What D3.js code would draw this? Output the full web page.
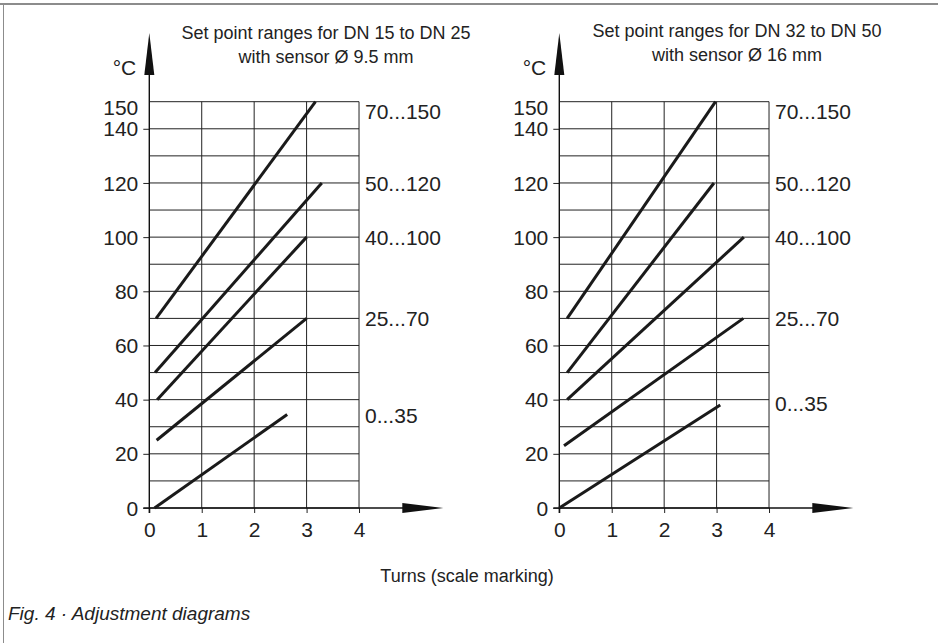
<!DOCTYPE html>
<html>
<head>
<meta charset="utf-8">
<script src="https://cdn.jsdelivr.net/npm/d3@7"></script>
<style>
  body { margin: 0; background: #fff; }
  svg { display: block; }
  text { font-family: "Liberation Sans", Arial, sans-serif; fill: #222; }
</style>
</head>
<body>
<div id="chart"></div>
<script>
// tick values shared by both diagrams
const turnTicks = [0, 1, 2, 3, 4];
const tempTicks = [0, 20, 40, 60, 80, 100, 120, 140, 150];
const gridTemps = d3.range(0, 151, 10);

// set point ranges, one line per sensor range: [turn start, temp start, turn end, temp end]
const rangeNames = ["70...150", "50...120", "40...100", "25...70", "0...35"];
const leftLines = [
  [0.13, 70, 3.17, 150],
  [0.11, 50, 3.29, 120],
  [0.15, 40, 3.00, 100],
  [0.14, 25, 3.00, 70],
  [0.10, 0, 2.63, 34.5]
];
const rightLines = [
  [0.15, 70, 2.98, 150],
  [0.15, 50, 2.95, 120],
  [0.15, 40, 3.52, 100],
  [0.09, 23, 3.51, 70],
  [0.00, 0, 3.07, 38]
];
// temperature where each range label sits
const leftLabelAt = [146.3, 120, 100, 70, 34];
const rightLabelAt = [146.3, 120, 100, 70, 38.5];

const leftTitle = ["Set point ranges for DN 15 to DN 25", "with sensor Ø 9.5 mm"];
const rightTitle = ["Set point ranges for DN 32 to DN 50", "with sensor Ø 16 mm"];

const width = 938, height = 643;
const svg = d3.select('#chart')
  .append('svg')
  .attr('width', width)
  .attr('height', height);

// page frame
svg.append('line')
  .attr('x1', 0).attr('x2', width).attr('y1', 4).attr('y2', 4)
  .attr('stroke', '#8c8c8c').attr('stroke-width', 2);
svg.append('line')
  .attr('x1', 3.5).attr('x2', 3.5).attr('y1', 4).attr('y2', height)
  .attr('stroke', '#8c8c8c').attr('stroke-width', 1);

function drawDiagram(x0, lines, labelAt, title, titleX, titleY) {
  const xScale = d3.scaleLinear().domain([0, 4]).range([x0, x0 + 4 * 52.43]);
  const yScale = d3.scaleLinear().domain([0, 150]).range([508, 101.7]);
  const g = svg.append('g');

  // grid
  g.selectAll('.hgrid')
    .data(gridTemps)
    .enter().append('line')
    .attr('x1', xScale(0)).attr('x2', xScale(4))
    .attr('y1', d => yScale(d)).attr('y2', d => yScale(d))
    .attr('stroke', '#222').attr('stroke-width', 1);
  g.selectAll('.vgrid')
    .data(turnTicks.slice(1))
    .enter().append('line')
    .attr('x1', d => xScale(d)).attr('x2', d => xScale(d))
    .attr('y1', yScale(150)).attr('y2', yScale(0))
    .attr('stroke', '#222').attr('stroke-width', 1);

  // x axis with arrow
  const xAxis = d3.axisBottom(xScale).tickValues(turnTicks).tickFormat(d3.format('d'))
    .tickSize(5).tickPadding(9);
  const gx = g.append('g')
    .attr('transform', `translate(0,${yScale(0)})`)
    .call(xAxis);
  gx.select('.domain').remove();
  gx.selectAll('line').attr('stroke', '#222');
  gx.selectAll('text').style('font-size', '21px').style('font-family', '"Liberation Sans", Arial, sans-serif').attr('fill', '#222');
  g.append('line')
    .attr('x1', xScale(0) - 6).attr('x2', xScale(0) + 256)
    .attr('y1', yScale(0)).attr('y2', yScale(0))
    .attr('stroke', '#111').attr('stroke-width', 1.4);
  g.append('path')
    .attr('d', `M${xScale(0) + 253},${yScale(0) - 5}L${xScale(0) + 294},${yScale(0)}L${xScale(0) + 253},${yScale(0) + 5}Z`)
    .attr('fill', '#111');

  // y axis with arrow
  const yAxis = d3.axisLeft(yScale).tickValues(tempTicks).tickSize(6).tickPadding(5);
  const gy = g.append('g')
    .attr('transform', `translate(${xScale(0)},0)`)
    .call(yAxis);
  gy.select('.domain').remove();
  gy.selectAll('line').attr('stroke', '#222').attr('opacity', d => d === 150 ? 0 : 1);
  gy.selectAll('text').style('font-size', '21px').style('font-family', '"Liberation Sans", Arial, sans-serif').attr('fill', '#222')
    .attr('dy', d => d === 150 ? '0.6em' : '0.34em');
  g.append('line')
    .attr('x1', xScale(0)).attr('x2', xScale(0))
    .attr('y1', yScale(0) + 5).attr('y2', 70)
    .attr('stroke', '#111').attr('stroke-width', 1.4);
  g.append('path')
    .attr('d', `M${xScale(0) - 5},75L${xScale(0)},33L${xScale(0) + 5},75Z`)
    .attr('fill', '#111');
  g.append('text')
    .attr('x', xScale(0) - 13).attr('y', 75)
    .attr('text-anchor', 'end')
    .style('font-size', '21px')
    .text('°C');

  // set point range lines
  g.selectAll('.range')
    .data(lines)
    .enter().append('line')
    .attr('x1', d => xScale(d[0])).attr('y1', d => yScale(d[1]))
    .attr('x2', d => xScale(d[2])).attr('y2', d => yScale(d[3]))
    .attr('stroke', '#1a1a1a').attr('stroke-width', 3);

  g.selectAll('.rlabel')
    .data(rangeNames)
    .enter().append('text')
    .attr('x', xScale(4) + 6)
    .attr('y', (d, i) => yScale(labelAt[i]))
    .attr('dy', '0.36em')
    .style('font-size', '21px')
    .text(d => d);

  // title
  g.selectAll('.title')
    .data(title)
    .enter().append('text')
    .attr('x', titleX)
    .attr('y', (d, i) => titleY + i * 24)
    .attr('text-anchor', 'middle')
    .style('font-size', '18px')
    .text(d => d);
}

drawDiagram(149.3, leftLines, leftLabelAt, leftTitle, 326, 39);
drawDiagram(559.3, rightLines, rightLabelAt, rightTitle, 737, 37);

svg.append('text')
  .attr('x', 467).attr('y', 582)
  .attr('text-anchor', 'middle')
  .style('font-size', '18px')
  .text('Turns (scale marking)');

svg.append('text')
  .attr('x', 8).attr('y', 620)
  .style('font-size', '19px')
  .style('font-style', 'italic')
  .text('Fig. 4 · Adjustment diagrams');
</script>
</body>
</html>
